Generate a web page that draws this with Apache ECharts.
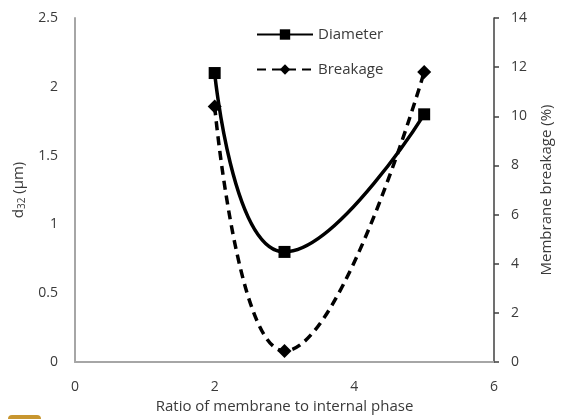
<!DOCTYPE html>
<html><head><meta charset="utf-8">
<script src="https://cdn.jsdelivr.net/npm/echarts@6/dist/echarts.min.js"></script>
<style>html,body{margin:0;padding:0;background:#fff}#c{width:562px;height:419px}</style>
</head><body><div id="c"></div>
<script>
const ratio = [2, 3, 5];
const diameter = [2.1, 0.8, 1.8];
const breakage = [10.4, 0.45, 11.8];
const xTicks = [0, 2, 4, 6];
const leftTicks = [0, 0.5, 1, 1.5, 2, 2.5];
const rightTicks = [0, 2, 4, 6, 8, 10, 12, 14];

const font = 'Open Sans';
const txt = '#3a3a3a';
const chart = echarts.init(document.getElementById('c'), null, {renderer: 'canvas'});
chart.setOption({
  animation: false,
  backgroundColor: '#fff',
  textStyle: {fontFamily: font},
  grid: {left: 75, right: 63, top: 18, bottom: 54},
  legend: {
    orient: 'vertical', left: 251, top: 22, itemWidth: 56, itemHeight: 13, itemGap: 20,
    textStyle: {fontFamily: font, fontSize: 15, color: txt},
    data: ['Diameter', 'Breakage']
  },
  xAxis: {
    type: 'value', min: xTicks[0], max: xTicks[xTicks.length - 1], interval: 2,
    name: 'Ratio of membrane to internal phase', nameLocation: 'middle', nameGap: 37,
    nameTextStyle: {fontFamily: font, fontSize: 15, color: txt},
    axisLine: {show: true, lineStyle: {color: '#a6a6a6', width: 2}},
    axisTick: {show: false}, splitLine: {show: false},
    axisLabel: {fontFamily: font, fontSize: 14, color: txt, margin: 18}
  },
  yAxis: [{
    type: 'value', min: leftTicks[0], max: leftTicks[leftTicks.length - 1], interval: 0.5,
    name: '{a|d}{b|32}{a| (µm)}', nameLocation: 'middle', nameGap: 44,
    nameTextStyle: {fontFamily: font, fontSize: 15, color: txt,
      rich: {a: {fontFamily: font, fontSize: 15, color: txt}, b: {fontFamily: font, fontSize: 10, color: txt, verticalAlign: 'bottom', padding: [8, 0, 0, 0]}}},
    axisLine: {show: true, lineStyle: {color: '#a6a6a6', width: 2}},
    axisTick: {show: false}, splitLine: {show: false},
    axisLabel: {fontFamily: font, fontSize: 14, color: txt, margin: 17}
  }, {
    type: 'value', position: 'right', min: rightTicks[0], max: rightTicks[rightTicks.length - 1], interval: 2,
    name: 'Membrane breakage (%)', nameLocation: 'middle', nameGap: 45, nameRotate: 90,
    nameTextStyle: {fontFamily: font, fontSize: 15, color: txt},
    axisLine: {show: true, lineStyle: {color: '#404040', width: 1.5}},
    axisTick: {show: true, length: 5, lineStyle: {color: '#404040', width: 1.5}},
    splitLine: {show: false},
    axisLabel: {fontFamily: font, fontSize: 14, color: txt, margin: 17}
  }],
  series: [{
    name: 'Diameter', type: 'line', yAxisIndex: 0, smooth: 0.5,
    data: ratio.map((x, i) => [x, diameter[i]]),
    symbol: 'rect', symbolSize: 12,
    lineStyle: {color: '#000', width: 3.5}, itemStyle: {color: '#000'}
  }, {
    name: 'Breakage', type: 'line', yAxisIndex: 1, smooth: 0.5,
    data: ratio.map((x, i) => [x, breakage[i]]),
    symbol: 'diamond', symbolSize: 14,
    lineStyle: {color: '#000', width: 3.5, type: [9, 6]}, itemStyle: {color: '#000'}
  }],
  graphic: [{
    type: 'rect', left: 8, top: 415, shape: {width: 33, height: 10, r: 4},
    style: {fill: '#c8962f'}
  }]
});
</script></body></html>
